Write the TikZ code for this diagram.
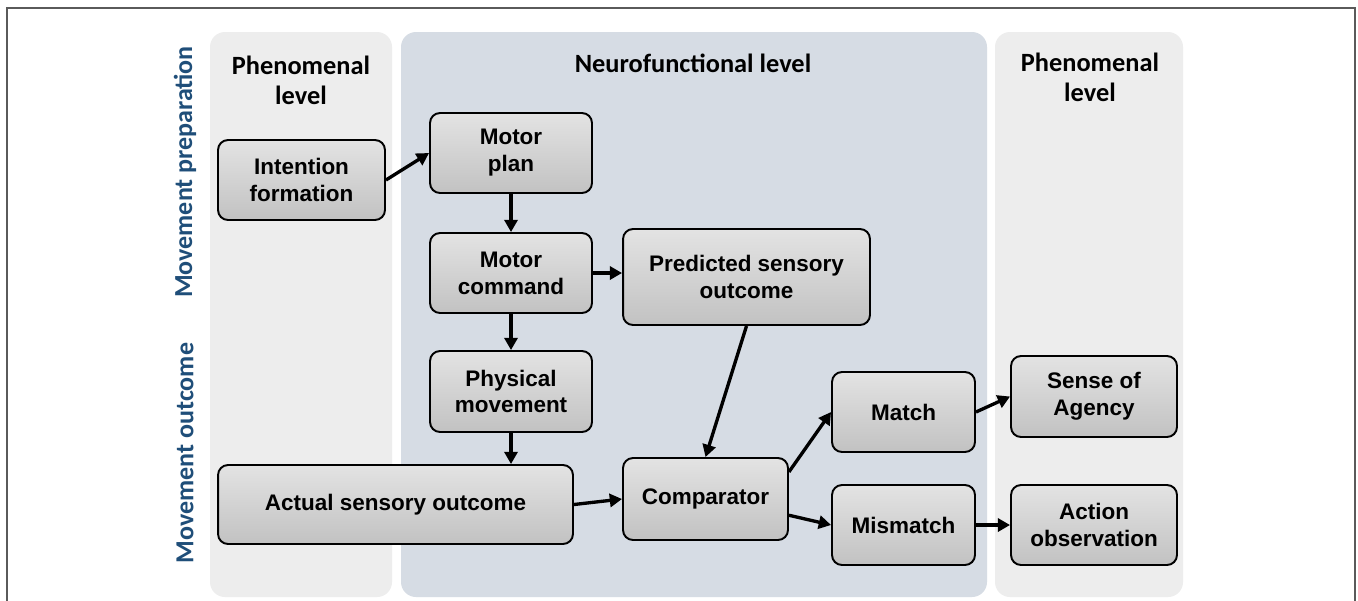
\documentclass[tikz,border=0pt]{standalone}
\usepackage{fontspec}
\setmainfont{Liberation Sans}
\newfontfamily\headfont{Carlito}
\usetikzlibrary{arrows.meta}

\definecolor{phenfill}{HTML}{EDEDED}
\definecolor{neurofill}{HTML}{D6DCE4}
\definecolor{sideblue}{HTML}{1F4E79}
\definecolor{framegray}{HTML}{5A5A5A}

\begin{document}
\begin{tikzpicture}[
        x=0.02cm, y=-0.02cm,
        stage/.style={draw=black, line width=1.1pt, rounded corners=0.2cm,
            top color=gray!22, bottom color=gray!48, align=center,
            font=\bfseries\fontsize{12.8}{15.3}\selectfont, inner sep=2pt},
        header/.style={align=center, font=\headfont\bfseries\fontsize{15}{17}\selectfont},
        sidelabel/.style={rotate=90, text=sideblue, font=\headfont\bfseries\fontsize{14.8}{17}\selectfont},
        flow/.style={line width=1.9pt, -{Triangle[length=7pt,width=7.5pt]}}
    ]
        \useasboundingbox (0,0) rectangle (1358,600);
        \fill[white] (0,0) rectangle (1358,600);

        % Outer frame (open at the bottom)
        \draw[framegray, line width=0.6pt] (7,605) -- (7,8) -- (1355,8) -- (1355,605);

        % Background panels for the levels
        \fill[phenfill, rounded corners=0.3cm] (210,32) rectangle (392,597);
        \fill[neurofill, rounded corners=0.3cm] (401,32) rectangle (987,597);
        \fill[phenfill, rounded corners=0.3cm] (995,32) rectangle (1183,597);

        % Panel headers
        \node[header] (lefthead) at (301,80) {Phenomenal\\level};
        \node[header] (midhead) at (693,63) {Neurofunctional level};
        \node[header] (righthead) at (1090,77) {Phenomenal\\level};

        % Vertical labels on the left
        \node[sidelabel] (prep) at (185,172) {Movement preparation};
        \node[sidelabel] (outcome) at (185,453) {Movement outcome};

        % Stages
        \node[stage, minimum width=3.34cm, minimum height=1.6cm] (intent) at (301.5,180) {Intention\\formation};
        \node[stage, minimum width=3.24cm, minimum height=1.6cm] (plan) at (511,153) {Motor\\plan};
        \node[stage, minimum width=3.24cm, minimum height=1.6cm] (command) at (511,273) {Motor\\command};
        \node[stage, minimum width=4.94cm, minimum height=1.92cm] (predicted) at (746.5,277) {Predicted sensory\\outcome};
        \node[stage, minimum width=3.24cm, minimum height=1.62cm] (physical) at (511,391.5) {Physical\\movement};
        \node[stage, minimum width=7.1cm, minimum height=1.58cm] (actual) at (395.5,504.5) {Actual sensory outcome};
        \node[stage, minimum width=3.3cm, minimum height=1.64cm] (comparator) at (705.5,499) {Comparator};
        \node[stage, minimum width=2.86cm, minimum height=1.6cm] (match) at (903.5,412) {Match};
        \node[stage, minimum width=2.86cm, minimum height=1.6cm] (mismatch) at (903.5,525) {Mismatch};
        \node[stage, minimum width=3.32cm, minimum height=1.62cm] (agency) at (1094,396.5) {Sense of\\Agency};
        \node[stage, minimum width=3.32cm, minimum height=1.6cm] (observation) at (1094,525) {Action\\observation};

        % Arrows
        \draw[flow] (intent.east) -- (plan.west);
        \draw[flow] (plan.south) -- (command.north);
        \draw[flow] (command.east) -- (command.east -| predicted.west);
        \draw[flow] (command.south) -- (physical.north);
        \draw[flow] (physical.south) -- (physical.south |- actual.north);
        \draw[flow] (predicted.south) -- (comparator.north);
        \draw[flow] (actual.east) -- (comparator.west);
        \draw[flow] (comparator.18) -- (match.west);
        \draw[flow] (comparator.-11) -- (mismatch.west);
        \draw[flow] (match.east) -- (agency.west);
        \draw[flow] (mismatch.east) -- (observation.west);
    \end{tikzpicture}
\end{document}
